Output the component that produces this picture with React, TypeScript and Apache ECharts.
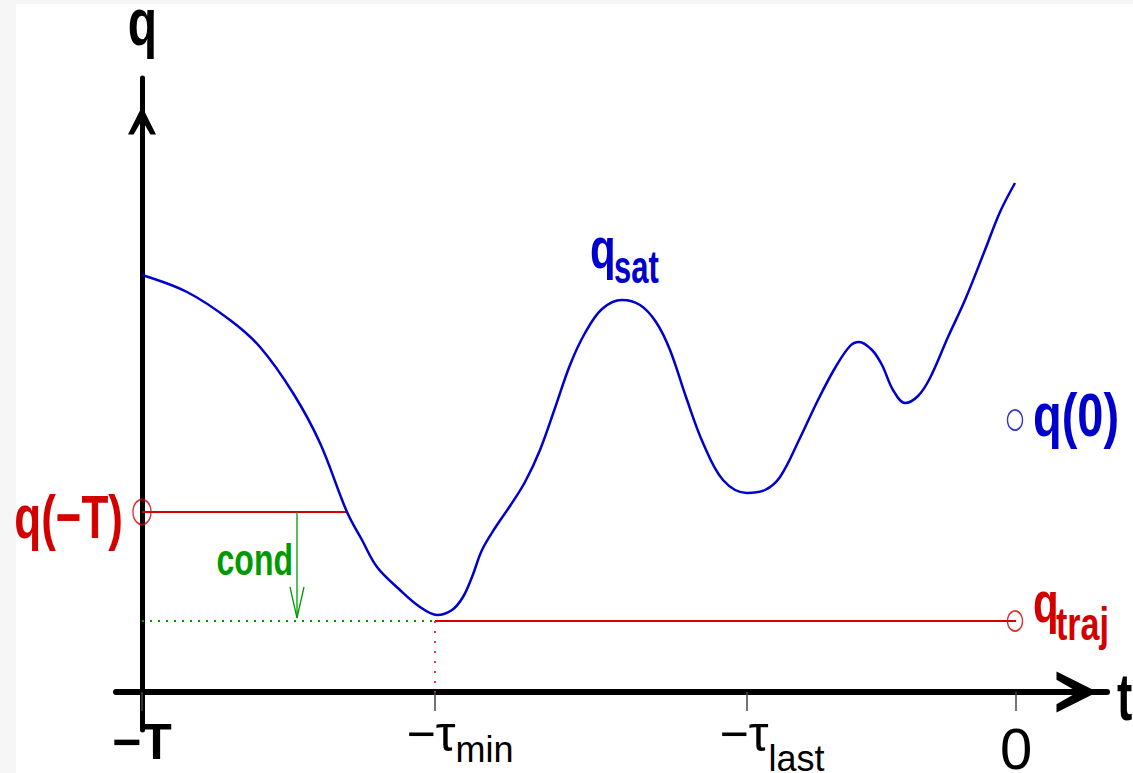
import React, { useEffect, useRef } from "react";
import * as echarts from "echarts";

// ---- data (t measured from -T, q measured from the t axis) ----
const curveT = [0, 45, 88, 118, 151, 178, 205, 220, 235, 258, 278, 295, 310, 321, 330, 340, 353, 368, 383, 398, 413, 428, 443, 460, 480, 498, 514, 528, 544, 561, 581, 605, 623, 638, 658, 676, 693, 708, 717, 730, 740, 751, 763, 776, 788, 806, 823, 843, 858, 873];
const curveQ = [417, 400, 372, 345, 299, 249, 180, 152, 125, 102, 85, 77, 82, 95, 115, 142, 164, 186, 210, 242, 284, 327, 359, 383, 392, 387, 370, 342, 295, 249, 212, 199, 202, 215, 254, 292, 324, 346, 350, 342, 327, 302, 289, 296, 314, 355, 392, 442, 480, 509];

const tickValues = [0, 293, 605, 874];
const tickMain = ["−T", "−τ", "−τ", "0"];
const tickSub = ["", "min", "last", ""];

const tauMin = 293;
const tZero = 874;
const qMinusT = 180; // q(-T)
const qMinusTEnd = 205; // where the q(-T) level meets the curve
const qTraj = 71;
const qZero = 272;
const condT = 155;
const condHead = [[148, 105], [155, 74], [162, 105]];

const FONT = "'Liberation Sans', Arial, Helvetica, sans-serif";
const BLUE = "#0000cc";
const RED = "#d40000";
const GREEN = "#009a00";
const ARROW = "path://M50,0 L100,100 L80,100 L50,48 L20,100 L0,100 Z";

function label(text: string, x: number, baseline: number, F: number, s: number, color: string, align = "left", weight = "bold") {
  return {
    type: "text",
    x,
    y: baseline - 0.3465 * F * s,
    scaleY: s,
    z: 10,
    style: { text, fill: color, fontSize: F, lineHeight: Math.round(F * 0.6), fontWeight: weight, fontFamily: FONT, align, verticalAlign: "middle" },
  };
}

export default function App() {
  const ref = useRef<HTMLDivElement>(null);
  useEffect(() => {
    document.body.style.margin = "0";
    const chart = echarts.init(ref.current!, null, { renderer: "svg" });
    const curve = curveT.map((t, i) => [t, curveQ[i]]);
    const rich: any = {
      pad: { width: 50, fontSize: 12 },
      bt: { fontSize: 50, fontWeight: "bold", lineHeight: 50, padding: [20, 0, 0, 0], verticalAlign: "top", color: "#000", fontFamily: FONT },
      tm: { fontSize: 50, lineHeight: 50, padding: [12, 0, 0, 0], verticalAlign: "top", color: "#000", fontFamily: FONT },
      s1: { fontSize: 36, lineHeight: 36, padding: [34, 0, 0, 0], verticalAlign: "top", color: "#000", fontFamily: FONT },
      s2: { fontSize: 36, lineHeight: 30, padding: [43, 0, 0, 0], verticalAlign: "top", color: "#000", fontFamily: FONT },
      z: { fontSize: 58, lineHeight: 50, padding: [22, 0, 0, 0], verticalAlign: "top", color: "#000", fontFamily: FONT },
    };
    const option: any = {
      animation: false,
      backgroundColor: "transparent",
      grid: { left: 116, right: 26, top: 78, bottom: 43, containLabel: false, outerBoundsMode: "none" },
      xAxis: {
        type: "value",
        min: -26,
        max: 965,
        axisLine: {
          onZero: true,
          lineStyle: { color: "#000", width: 6 },
          symbol: ["none", ARROW],
          symbolSize: [41, 60],
          symbolOffset: [0, -30],
        },
        axisTick: { show: true, customValues: tickValues, length: 19, lineStyle: { color: "#444", width: 1.5 } },
        axisLabel: {
          customValues: tickValues,
          margin: -33,
          formatter: (v: number) => {
            const i = tickValues.indexOf(v);
            if (i < 0) return "";
            if (i === 0) return "{bt|" + tickMain[i] + "}";
            if (tickSub[i]) return "{pad| }{tm|" + tickMain[i] + "}{s" + i + "|" + tickSub[i] + "}";
            return "{z|" + tickMain[i] + "}";
          },
          rich,
        },
        splitLine: { show: false },
      },
      yAxis: {
        type: "value",
        min: -38,
        max: 614,
        axisLine: {
          onZero: true,
          lineStyle: { color: "#000", width: 5 },
          symbol: ["none", ARROW],
          symbolSize: [28, 85],
          symbolOffset: [0, -42.5],
        },
        axisTick: { show: false },
        axisLabel: { show: false },
        splitLine: { show: false },
      },
      series: [
        { type: "line", data: curve, smooth: 0.35, showSymbol: false, lineStyle: { color: BLUE, width: 2.5 }, z: 5 },
        { type: "line", data: [[0, qMinusT], [qMinusTEnd, qMinusT]], showSymbol: false, lineStyle: { color: RED, width: 2 } },
        { type: "line", data: [[tauMin, qTraj], [tZero, qTraj]], showSymbol: false, lineStyle: { color: RED, width: 2 } },
        { type: "line", data: [[0, qTraj], [tauMin, qTraj]], showSymbol: false, lineStyle: { color: GREEN, width: 2, type: [2, 6] } },
        { type: "line", data: [[tauMin, qTraj], [tauMin, 0]], showSymbol: false, lineStyle: { color: "#e04040", width: 2, type: [2, 8] } },
        { type: "line", data: [[condT, qMinusT], [condT, condHead[1][1]]], showSymbol: false, lineStyle: { color: GREEN, width: 1.3 } },
        { type: "line", data: condHead, showSymbol: false, lineStyle: { color: GREEN, width: 1.3 } },
        {
          type: "scatter",
          data: [{ value: [0, qMinusT], symbolSize: [18, 25], itemStyle: { borderColor: RED } }],
          symbol: "circle",
          itemStyle: { color: "transparent", borderWidth: 1.6 },
          z: 6,
        },
        {
          type: "scatter",
          data: [
            { value: [tZero - 1, qZero], itemStyle: { borderColor: BLUE } },
            { value: [tZero - 1, qTraj], itemStyle: { borderColor: RED } },
          ],
          symbol: "circle",
          symbolSize: [15, 20],
          itemStyle: { color: "transparent", borderWidth: 1.6 },
          z: 6,
        },
      ],
      graphic: [
        { type: "rect", z: -10, shape: { x: 16, y: 4, width: 1117, height: 769 }, style: { fill: "#fff" } },
        label("q", 142.5, 45, 48, 1.4, "#000", "center"),
        label("t", 1117, 720, 46, 1.45, "#000"),
        label("q(−T)", 123, 538, 44, 1.4, RED, "right"),
        label("q(0)", 1033, 436, 47, 1.3, BLUE),
        label("q", 590, 268, 42, 1.35, BLUE),
        label("sat", 614, 283, 31, 1.5, BLUE),
        label("q", 1033, 622, 42, 1.35, RED),
        label("traj", 1056, 640, 34, 1.35, RED),
        label("cond", 293, 575, 32, 1.36, GREEN, "right"),
      ],
    };
    chart.setOption(option);
    return () => chart.dispose();
  }, []);
  return <div ref={ref} style={{ width: 1133, height: 773, background: "#f6f6f6" }} />;
}
